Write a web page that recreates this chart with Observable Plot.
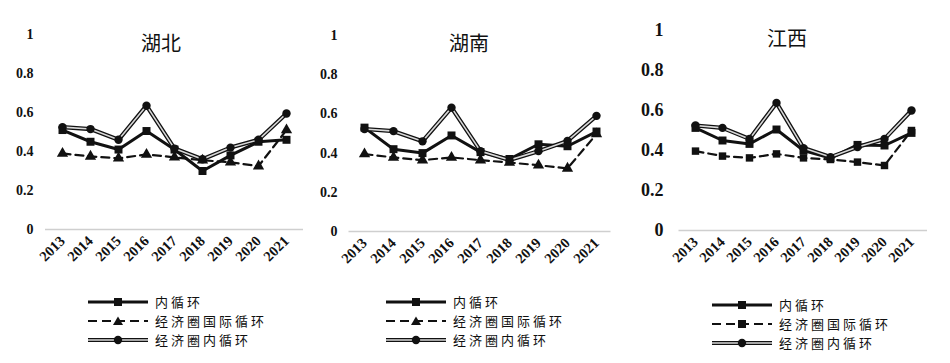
<!DOCTYPE html>
<html><head><meta charset="utf-8">
<script src="https://cdn.jsdelivr.net/npm/d3@7"></script>
<script src="https://cdn.jsdelivr.net/npm/@observablehq/plot@0.6"></script>
<style>
body{margin:0;background:#fff;}
#root{position:relative;width:950px;height:363px;overflow:hidden;background:#fff;}
.panel{position:absolute;top:0;}
.panel svg text{font-family:"Liberation Serif","Times New Roman",serif;}
.title{position:absolute;font-family:"Noto Sans CJK SC";font-size:20px;color:#111;transform:translateX(-50%);white-space:nowrap;line-height:1;}
.legend{position:absolute;font-family:"Noto Sans CJK SC";font-size:13px;letter-spacing:3px;color:#111;line-height:16px;}
.legend .row{position:absolute;left:0;height:16px;display:flex;align-items:center;white-space:nowrap;}
.legend svg{display:block;margin-right:7px;}
</style></head><body><div id="root"></div>
<script>
const years = [2013, 2014, 2015, 2016, 2017, 2018, 2019, 2020, 2021];
const seriesNames = ["内循环", "经济圈国际循环", "经济圈内循环"];
const regions = ["湖北", "湖南", "江西"];
const yTicks = [0, 0.2, 0.4, 0.6, 0.8, 1];

const hubeiInner = [0.51, 0.45, 0.41, 0.505, 0.41, 0.30, 0.38, 0.45, 0.46];
const hubeiIntl  = [0.39, 0.375, 0.365, 0.385, 0.37, 0.355, 0.345, 0.325, 0.51];
const hubeiEcon  = [0.525, 0.515, 0.46, 0.635, 0.415, 0.36, 0.42, 0.46, 0.595];

const hunanInner = [0.53, 0.42, 0.40, 0.49, 0.405, 0.37, 0.445, 0.435, 0.51];
const hunanIntl  = [0.395, 0.378, 0.364, 0.378, 0.364, 0.352, 0.338, 0.322, 0.497];
const hunanEcon  = [0.523, 0.512, 0.46, 0.632, 0.41, 0.365, 0.41, 0.462, 0.59];

const jiangxiInner = [0.513, 0.45, 0.433, 0.505, 0.40, 0.362, 0.428, 0.425, 0.488];
const jiangxiIntl  = [0.397, 0.372, 0.363, 0.383, 0.363, 0.355, 0.342, 0.325, 0.50];
const jiangxiEcon  = [0.525, 0.513, 0.458, 0.638, 0.412, 0.367, 0.417, 0.458, 0.60];

const root = document.getElementById("root");
const toRows = vals => years.map((yr, i) => ({year: yr, value: vals[i]}));
const serif = "Liberation Serif";

const panels = [
  {name: regions[0], left: 0, width: 310, ml: 45, mr: 7, mt: 34, zero: 229, tickFont: 14, tickPad: 12,
   inner: hubeiInner, intl: hubeiIntl, econ: hubeiEcon, intlSym: "triangle",
   titleX: 161, titleY: 33, legX: 88, legY: [294, 313, 332]},
  {name: regions[1], left: 310, width: 310, ml: 38.5, mr: 9.5, mt: 35, zero: 231, tickFont: 14, tickPad: 11.5,
   inner: hunanInner, intl: hunanIntl, econ: hunanEcon, intlSym: "triangle",
   titleX: 469, titleY: 33, legX: 386, legY: [294, 313, 332]},
  {name: regions[2], left: 620, width: 330, ml: 58.5, mr: 23, mt: 30, zero: 230, tickFont: 18, tickPad: 15.5,
   inner: jiangxiInner, intl: jiangxiIntl, econ: jiangxiEcon, intlSym: "square",
   titleX: 787, titleY: 28, legX: 712, legY: [297, 316, 335]}
];

const H = 290;
for (const p of panels) {
  const inner = toRows(p.inner), intl = toRows(p.intl), econ = toRows(p.econ);
  const chart = Plot.plot({
    width: p.width, height: H,
    marginLeft: p.ml, marginRight: p.mr, marginTop: p.mt, marginBottom: H - p.zero,
    x: {type: "point", domain: years, padding: 0.5},
    y: {domain: [0, 1]},
    style: {background: "transparent", fontFamily: serif, color: "#111"},
    marks: [
      Plot.ruleY([0], {stroke: "#cfcfcf", strokeWidth: 1.5}),
      Plot.axisY({ticks: yTicks, tickFormat: d => String(d), tickSize: 0, tickPadding: p.tickPad,
        fontSize: p.tickFont, fontWeight: "bold", fontFamily: serif, label: null}),
      Plot.axisX({tickRotate: -45, tickSize: 0, tickPadding: 9, tickFormat: d => String(d),
        fontSize: 14.5, fontWeight: "bold", fontFamily: serif, label: null}),
      Plot.line(intl, {x: "year", y: "value", stroke: "#111", strokeWidth: 2.2, strokeDasharray: "8,5"}),
      Plot.dot(intl, {x: "year", y: "value", symbol: p.intlSym, r: 4.2, fill: "#111"}),
      Plot.line(inner, {x: "year", y: "value", stroke: "#111", strokeWidth: 3}),
      Plot.dot(inner, {x: "year", y: "value", symbol: "square", r: 4.5, fill: "#111"}),
      Plot.line(econ, {x: "year", y: "value", stroke: "#111", strokeWidth: 4.2}),
      Plot.line(econ, {x: "year", y: "value", stroke: "#d8d8d8", strokeWidth: 1.6}),
      Plot.dot(econ, {x: "year", y: "value", symbol: "circle", r: 4.2, fill: "#111"})
    ]
  });
  const div = document.createElement("div");
  div.className = "panel";
  div.style.left = p.left + "px";
  div.appendChild(chart);
  root.appendChild(div);

  const t = document.createElement("div");
  t.className = "title";
  t.style.left = p.titleX + "px";
  t.style.top = p.titleY + "px";
  t.textContent = p.name;
  root.appendChild(t);

  const leg = document.createElement("div");
  leg.className = "legend";
  leg.style.left = p.legX + "px";
  leg.style.top = "0px";
  const swatches = [
    `<line x1="0" x2="60" y1="8" y2="8" stroke="#111" stroke-width="3"/><rect x="26" y="4" width="8" height="8" fill="#111"/>`,
    `<line x1="0" x2="60" y1="8" y2="8" stroke="#111" stroke-width="2.2" stroke-dasharray="9,5"/>` +
      (p.intlSym === "triangle" ? `<path d="M30,3.5L35,12L25,12Z" fill="#111"/>` : `<rect x="26" y="4" width="8" height="8" fill="#111"/>`),
    `<line x1="0" x2="60" y1="8" y2="8" stroke="#111" stroke-width="4.2"/><line x1="0" x2="60" y1="8" y2="8" stroke="#d8d8d8" stroke-width="1.6"/><circle cx="30" cy="8" r="4.2" fill="#111"/>`
  ];
  seriesNames.forEach((n, i) => {
    const row = document.createElement("div");
    row.className = "row";
    row.style.top = p.legY[i] + "px";
    row.innerHTML = `<svg width="60" height="16">${swatches[i]}</svg><span>${n}</span>`;
    leg.appendChild(row);
  });
  root.appendChild(leg);
}
</script></body></html>
